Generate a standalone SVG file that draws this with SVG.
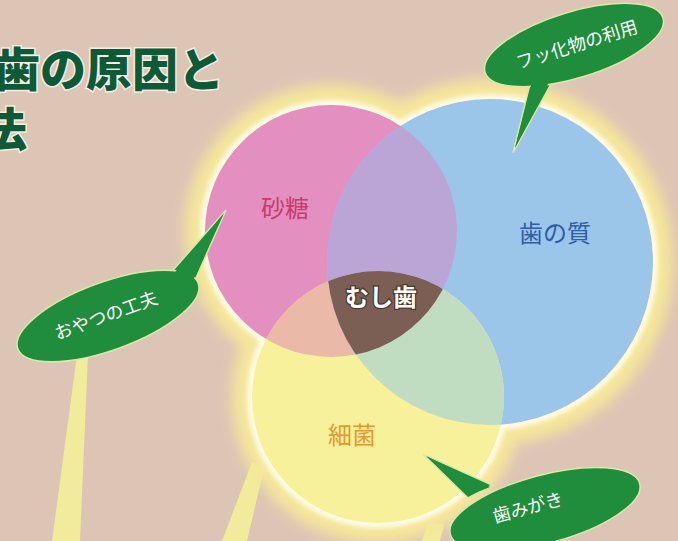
<svg xmlns="http://www.w3.org/2000/svg" width="678" height="541" viewBox="0 0 678 541">
<style>
.lbl{font-family:"Noto Sans CJK JP","Noto Sans CJK SC",sans-serif;font-size:24px;text-anchor:middle}
.bub{fill:#1f8d3b;stroke:#d9e9a6;stroke-width:1.5}
.btx{font-family:"Noto Sans CJK JP","Noto Sans CJK SC",sans-serif;font-size:18px;fill:#ffffff;text-anchor:middle}
.beam{fill:#f4ee98;opacity:0.9}
</style>
<defs>
<filter id="blur6" x="-20%" y="-20%" width="140%" height="140%"><feGaussianBlur stdDeviation="7"/></filter>
<filter id="blur2" x="-20%" y="-20%" width="140%" height="140%"><feGaussianBlur stdDeviation="2"/></filter>
<clipPath id="cP"><circle cx="331" cy="231" r="126"/></clipPath>
<clipPath id="cB"><circle cx="490" cy="262" r="163"/></clipPath>
<clipPath id="cY"><circle cx="378" cy="397" r="126"/></clipPath>
</defs>
<rect width="678" height="541" fill="#dcc5b5"/>
<g id="beams">
<polygon class="beam" points="77,355 88,355 80,541 52,541"/>
<polygon class="beam" points="252,462 265,465 247,541 222,541"/>
<polygon class="beam" points="428,522 444,524 440,541 422,541"/>
</g>
<g id="title" font-family="'Noto Sans CJK JP','Noto Sans CJK SC',sans-serif" font-weight="900" font-size="46" fill="#0e5a37" stroke="#f4efe6" stroke-width="3" paint-order="stroke">
<text x="-6" y="86">歯の原因と</text>
<text x="-19" y="146">法</text>
</g>
<g id="glow">
<g fill="#f6e79a" filter="url(#blur6)">
<circle cx="331" cy="231" r="146"/>
<circle cx="490" cy="262" r="183"/>
<circle cx="378" cy="397" r="146"/>
</g>
<g fill="#fffbe6" filter="url(#blur2)">
<circle cx="331" cy="231" r="131"/>
<circle cx="490" cy="262" r="168"/>
<circle cx="378" cy="397" r="131"/>
</g>
</g>
<g id="sugar">
<circle cx="331" cy="231" r="126" fill="#e38fc0"/>
</g>
<g id="tooth">
<circle cx="490" cy="262" r="163" fill="#9cc5ea"/>
</g>
<g id="bacteria">
<circle cx="378" cy="397" r="126" fill="#f8f19c"/>
</g>
<g id="overlaps">
<circle cx="490" cy="262" r="163" fill="#bba5d6" clip-path="url(#cP)"/>
<circle cx="378" cy="397" r="126" fill="#eab9a8" clip-path="url(#cP)"/>
<circle cx="378" cy="397" r="126" fill="#c0dcc1" clip-path="url(#cB)"/>
</g>
<g id="caries">
<g clip-path="url(#cP)"><g clip-path="url(#cB)"><circle cx="378" cy="397" r="126" fill="#7b5f55"/></g></g>
</g>
<g id="labels">
<text class="lbl" x="285" y="217" fill="#c93b6b">砂糖</text>
<text class="lbl" x="555" y="242" fill="#2d5ea6">歯の質</text>
<text class="lbl" x="352" y="444" fill="#e3992d">細菌</text>
<text class="lbl" x="381" y="306" fill="#ffffff" font-weight="bold" stroke="#4a3730" stroke-width="2.5" paint-order="stroke">むし歯</text>
</g>
<g id="bubble-fluoride">
<path class="bub" d="M532,76 L513,153 L552,82 Z"/>
<ellipse class="bub" cx="574" cy="45" rx="93" ry="33" transform="rotate(-17 574 45)"/>
<path d="M534,74 L515,148 L550,80 Z" fill="#1f8d3b"/>
<text class="btx" x="577" y="51" transform="rotate(-17 577 45)">フッ化物の利用</text>
</g>
<g id="bubble-snack">
<path class="bub" d="M160,285 L226,210 L188,296 Z"/>
<ellipse class="bub" cx="108" cy="316" rx="96" ry="34" transform="rotate(-20 108 316)"/>
<path d="M162,288 L224,213 L185,298 Z" fill="#1f8d3b"/>
<text class="btx" x="106" y="322" transform="rotate(-20 106 316)">おやつの工夫</text>
</g>
<g id="bubble-brush">
<path class="bub" d="M468,498 L423,454 L492,485 Z"/>
<ellipse class="bub" cx="545" cy="509" rx="98" ry="34" transform="rotate(-15 545 509)"/>
<path d="M470,495 L426,456 L490,487 Z" fill="#1f8d3b"/>
<text class="btx" x="528" y="514" transform="rotate(-15 528 508)">歯みがき</text>
</g>
</svg>
